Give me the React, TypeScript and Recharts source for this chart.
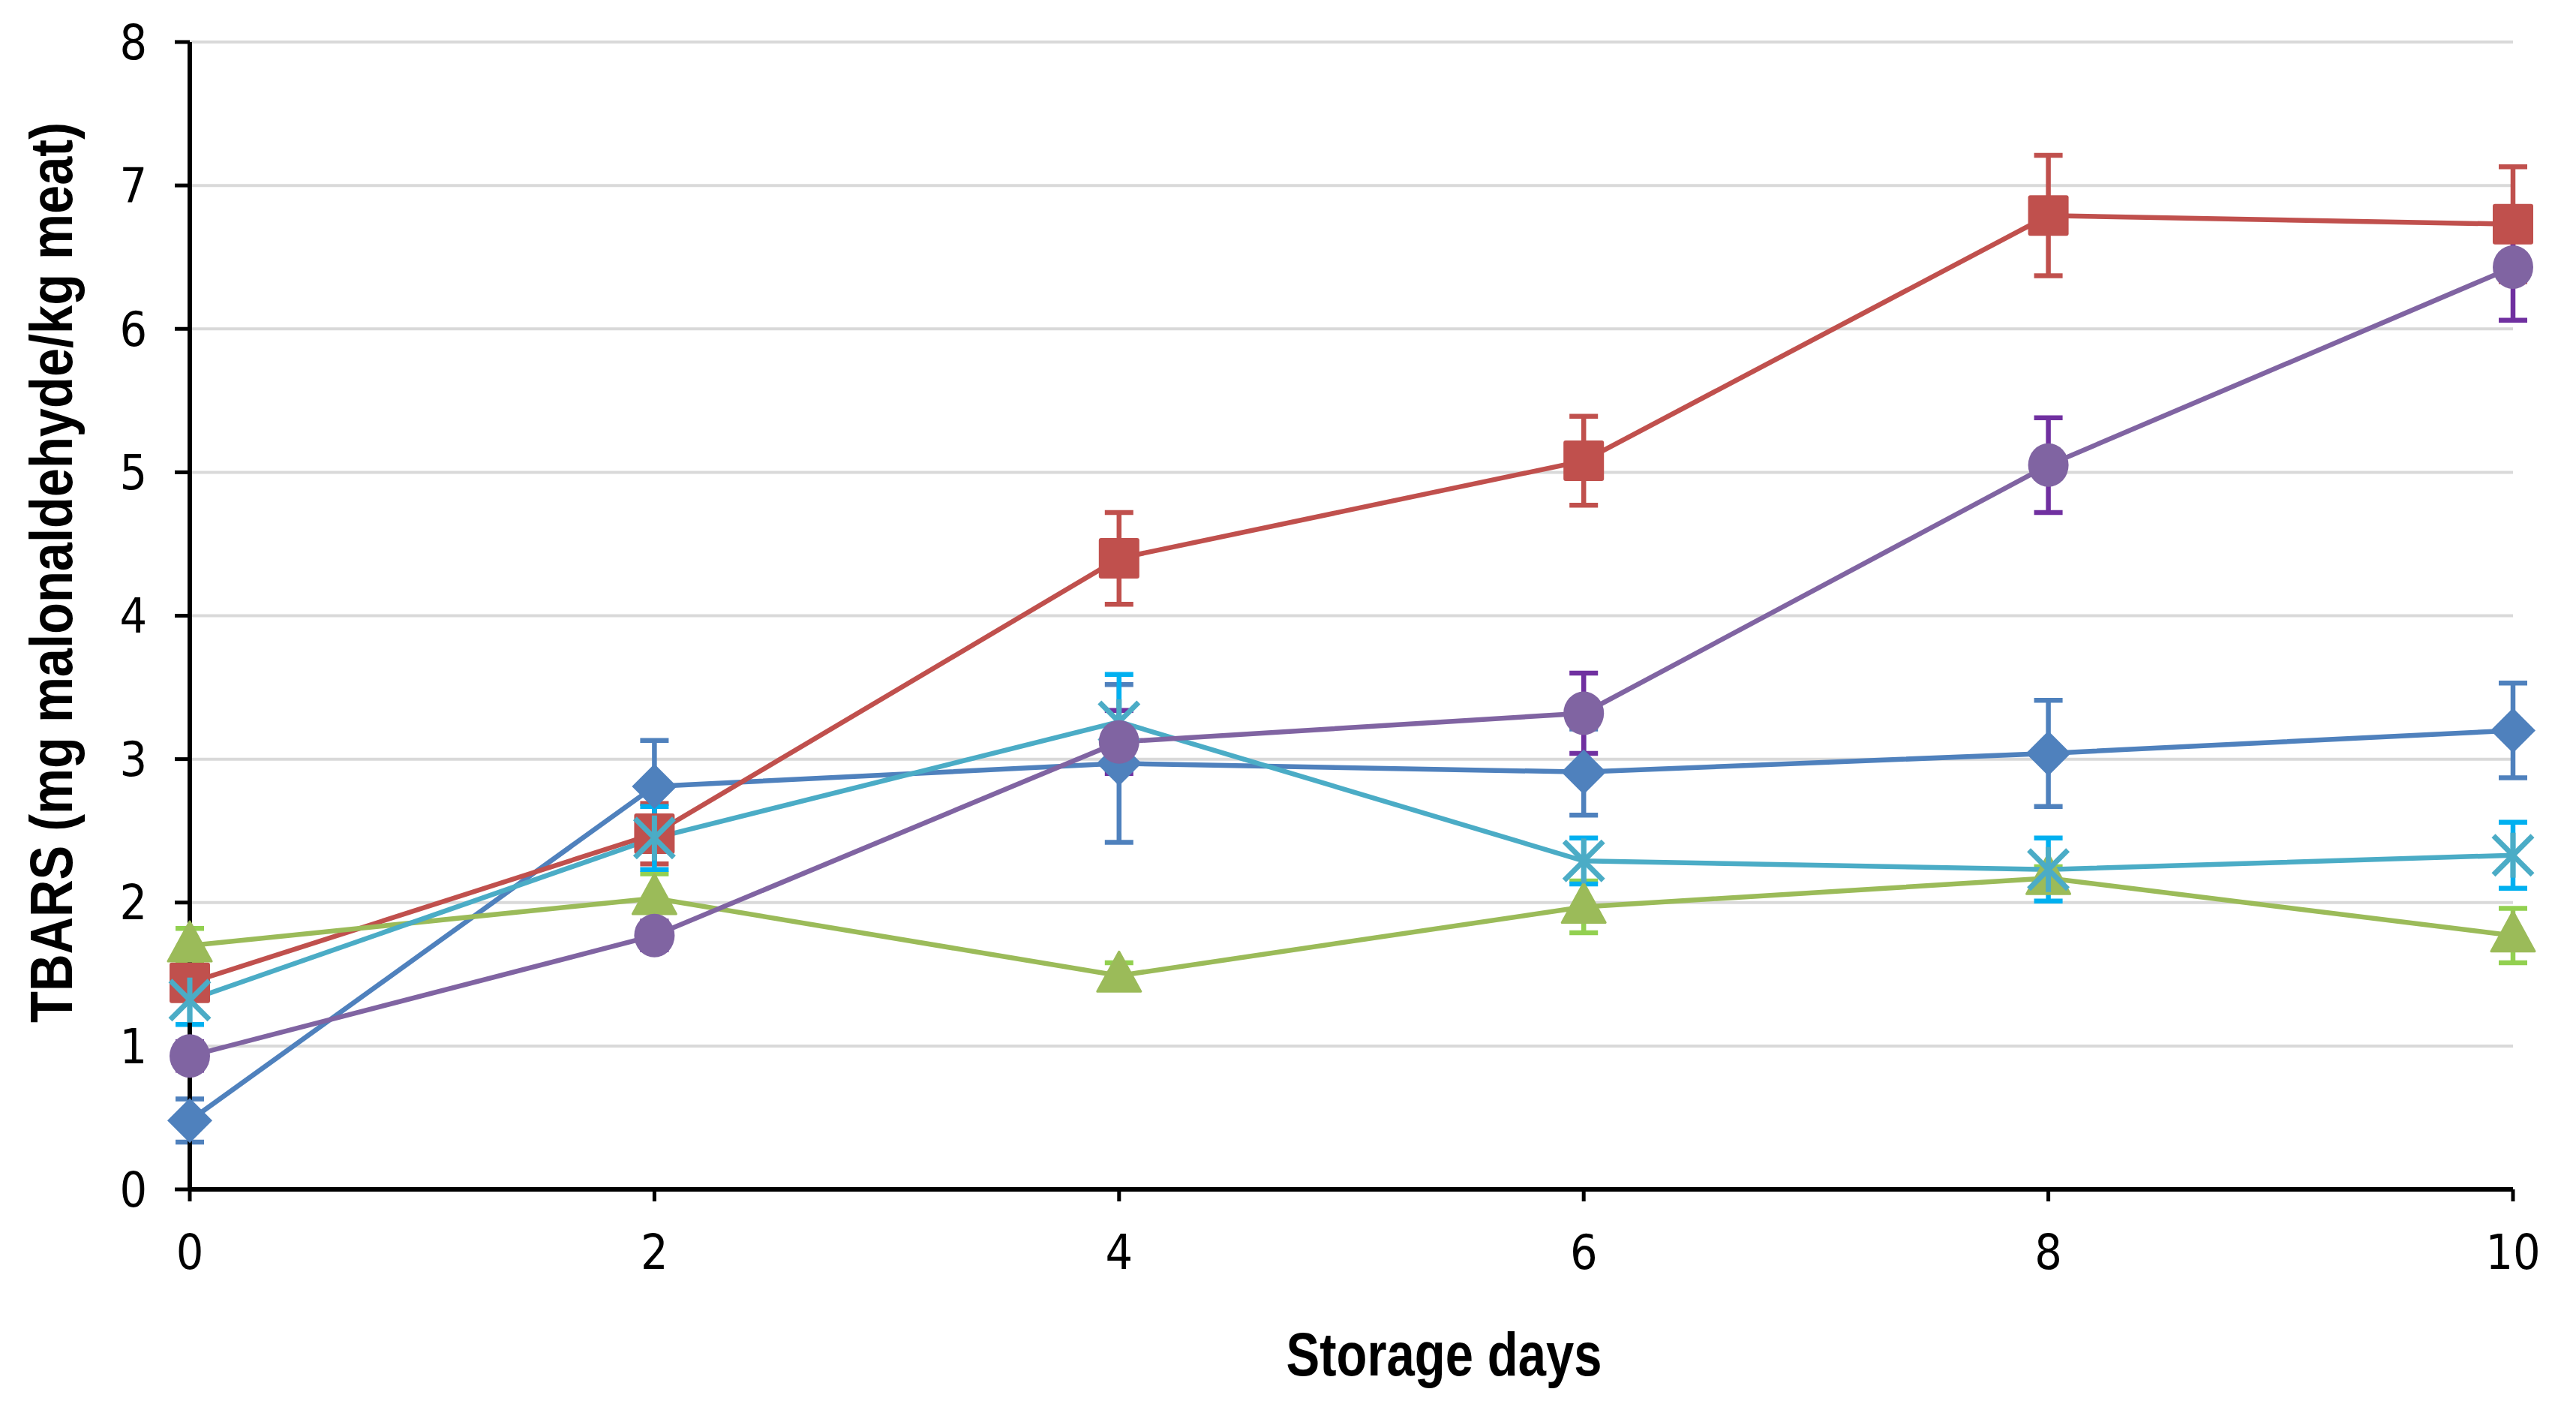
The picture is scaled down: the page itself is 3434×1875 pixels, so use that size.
import React from "react";
import {
  LineChart,
  Line,
  XAxis,
  YAxis,
  CartesianGrid,
  ErrorBar,
} from "recharts";

document.body.style.margin = "0";

// storage day on x, TBARS on y
const days = [0, 2, 4, 6, 8, 10];
const yTicks = [0, 1, 2, 3, 4, 5, 6, 7, 8];

const blue = [0.48, 2.81, 2.97, 2.91, 3.04, 3.2];
const blueErr = [0.15, 0.32, 0.55, 0.3, 0.37, 0.33];
const red = [1.44, 2.48, 4.4, 5.08, 6.79, 6.73];
const redErr = [0.08, 0.21, 0.32, 0.31, 0.42, 0.4];
const green = [1.7, 2.03, 1.49, 1.97, 2.17, 1.77];
const greenErr = [0.12, 0.17, 0.09, 0.18, 0.08, 0.19];
const teal = [1.32, 2.45, 3.26, 2.29, 2.23, 2.33];
const tealErr = [0.17, 0.22, 0.33, 0.16, 0.22, 0.23];
const purple = [0.93, 1.77, 3.12, 3.32, 5.05, 6.43];
const purpleErr = [0.1, 0.1, 0.22, 0.28, 0.33, 0.37];

const data = days.map((d, i) => ({
  day: d,
  blue: blue[i],
  blueErr: blueErr[i],
  red: red[i],
  redErr: redErr[i],
  green: green[i],
  greenErr: greenErr[i],
  teal: teal[i],
  tealErr: tealErr[i],
  purple: purple[i],
  purpleErr: purpleErr[i],
}));

const W = 3434;
const H = 1875;
const tickFont = "'Liberation Sans Narrow', 'DejaVu Sans Condensed', 'Liberation Sans', Arial, sans-serif";
const titleFont = "'Liberation Sans Narrow', 'Liberation Sans', Arial, sans-serif";
const LW = 6.5;

const Diamond = (p: any) => {
  const { cx, cy, index } = p;
  if (cx == null || cy == null) return <g key={index} />;
  const r = 30;
  return (
    <path
      key={index}
      d={`M${cx},${cy - r} L${cx + r},${cy} L${cx},${cy + r} L${cx - r},${cy} Z`}
      fill="#4F81BD"
    />
  );
};

const Square = (p: any) => {
  const { cx, cy, index } = p;
  if (cx == null || cy == null) return <g key={index} />;
  return (
    <rect key={index} x={cx - 27} y={cy - 27} width={54} height={54} rx={3} fill="#C0504D" />
  );
};

const Triangle = (p: any) => {
  const { cx, cy, index } = p;
  if (cx == null || cy == null) return <g key={index} />;
  return (
    <path
      key={index}
      d={`M${cx},${cy - 32} L${cx + 29},${cy + 21} L${cx - 29},${cy + 21} Z`}
      fill="#9BBB59"
      stroke="#9BBB59"
      strokeWidth={3}
      strokeLinejoin="round"
    />
  );
};

const Star = (p: any) => {
  const { cx, cy, index } = p;
  if (cx == null || cy == null) return <g key={index} />;
  const r = 26;
  return (
    <g key={index} stroke="#4BACC6" strokeWidth={7}>
      <line x1={cx - r} y1={cy - r} x2={cx + r} y2={cy + r} />
      <line x1={cx - r} y1={cy + r} x2={cx + r} y2={cy - r} />
      <line x1={cx} y1={cy - r - 4} x2={cx} y2={cy + r + 4} />
    </g>
  );
};

const Circle = (p: any) => {
  const { cx, cy, index } = p;
  if (cx == null || cy == null) return <g key={index} />;
  return <ellipse key={index} cx={cx} cy={cy} rx={27} ry={29} fill="#8064A2" />;
};

export default function App() {
  return (
    <div style={{ position: "relative", width: W, height: H, background: "#fff" }}>
      <LineChart
        width={W}
        height={H}
        data={data}
        margin={{ top: 56, right: 84, bottom: 190, left: 153 }}
      >
        <CartesianGrid vertical={false} stroke="#D9D9D9" strokeWidth={4} />
        <XAxis
          dataKey="day"
          type="number"
          domain={[0, 10]}
          ticks={days}
          height={100}
          axisLine={{ stroke: "#000", strokeWidth: 6 }}
          tickLine={{ stroke: "#000", strokeWidth: 5 }}
          tickSize={16}
          tickMargin={45}
          tick={{ fill: "#000", fontSize: 64, fontFamily: tickFont }}
        />
        <YAxis
          type="number"
          domain={[0, 8]}
          ticks={yTicks}
          width={100}
          axisLine={{ stroke: "#000", strokeWidth: 6 }}
          tickLine={{ stroke: "#000", strokeWidth: 5 }}
          tickSize={20}
          tickMargin={37}
          tick={{ fill: "#000", fontSize: 64, fontFamily: tickFont }}
        />
        <Line
          dataKey="blue"
          stroke="#4F81BD"
          strokeWidth={LW}
          dot={Diamond}
          activeDot={false}
          isAnimationActive={false}
        >
          <ErrorBar dataKey="blueErr" width={19} stroke="#4F81BD" strokeWidth={LW} />
        </Line>
        <Line
          dataKey="red"
          stroke="#C0504D"
          strokeWidth={LW}
          dot={Square}
          activeDot={false}
          isAnimationActive={false}
        >
          <ErrorBar dataKey="redErr" width={19} stroke="#C0504D" strokeWidth={LW} />
        </Line>
        <Line
          dataKey="green"
          stroke="#9BBB59"
          strokeWidth={LW}
          dot={Triangle}
          activeDot={false}
          isAnimationActive={false}
        >
          <ErrorBar dataKey="greenErr" width={19} stroke="#92D050" strokeWidth={LW} />
        </Line>
        <Line
          dataKey="teal"
          stroke="#4BACC6"
          strokeWidth={LW}
          dot={Star}
          activeDot={false}
          isAnimationActive={false}
        >
          <ErrorBar dataKey="tealErr" width={19} stroke="#00B0F0" strokeWidth={LW} />
        </Line>
        <Line
          dataKey="purple"
          stroke="#8064A2"
          strokeWidth={LW}
          dot={Circle}
          activeDot={false}
          isAnimationActive={false}
        >
          <ErrorBar dataKey="purpleErr" width={19} stroke="#7030A0" strokeWidth={LW} />
        </Line>
      </LineChart>

      {/* axis titles */}
      <svg
        width={W}
        height={H}
        style={{ position: "absolute", left: 0, top: 0, pointerEvents: "none" }}
      >
        <text
          x={1925}
          y={1833}
          textAnchor="middle"
          fontFamily={titleFont}
          fontWeight="bold"
          fontSize={82}
          textLength={421}
          lengthAdjust="spacingAndGlyphs"
          fill="#000"
        >
          Storage days
        </text>
        <text
          x={96}
          y={763}
          transform="rotate(-90, 96, 763)"
          textAnchor="middle"
          fontFamily={titleFont}
          fontWeight="bold"
          fontSize={80}
          textLength={1200}
          lengthAdjust="spacingAndGlyphs"
          fill="#000"
        >
          TBARS (mg malonaldehyde/kg meat)
        </text>
      </svg>
    </div>
  );
}
